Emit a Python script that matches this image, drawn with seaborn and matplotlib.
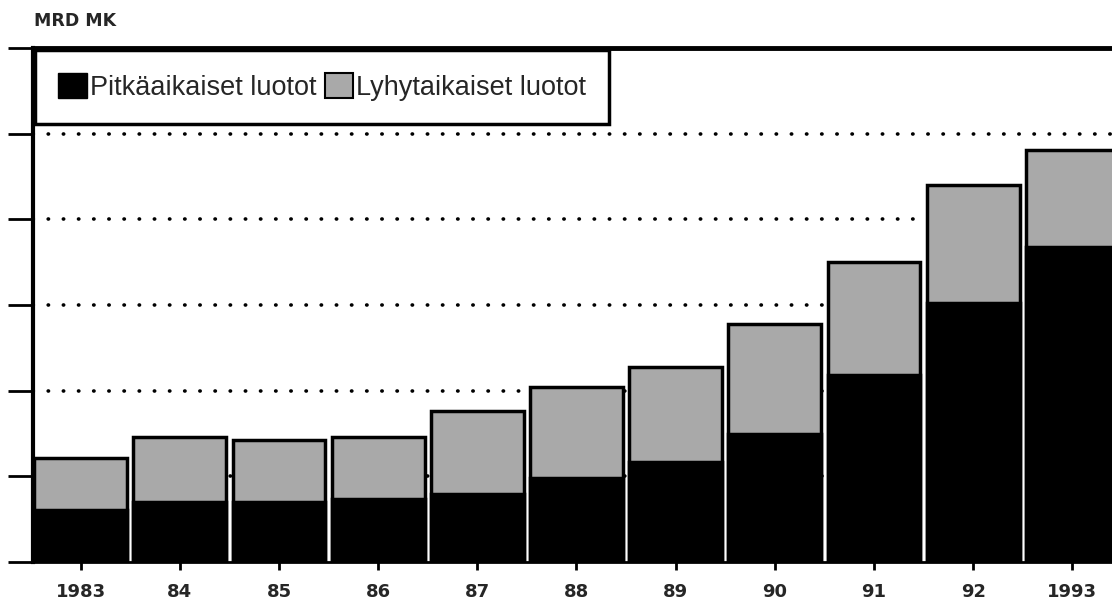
import matplotlib
matplotlib.use("Agg")
import matplotlib.pyplot as plt
import seaborn as sns
import pandas as pd
from matplotlib.patches import Patch

# values, units = one gridline step (scale is unlabelled)
years = ["1983", "84", "85", "86", "87", "88", "89", "90", "91", "92", "1993"]
pitka = [6.1, 7.0, 7.0, 7.4, 8.0, 9.8, 11.7, 15.0, 21.8, 30.3, 36.8]   # black part
yhteensa = [12.1, 14.6, 14.3, 14.6, 17.6, 20.4, 22.8, 27.8, 35.0, 44.0, 48.1]  # bar top
legend_labels = ["Pitkäaikaiset luotot", "Lyhytaikaiset luotot"]

df = pd.DataFrame({"vuosi": years, "pitka": pitka, "yhteensa": yhteensa})

sns.set_style("white")
plt.rcParams['font.family'] = ['Liberation Sans', 'DejaVu Sans']

fig = plt.figure(figsize=(11.12, 6.02), dpi=100)
ax = fig.add_axes([0.0297, 0.0664, 1.0 - 0.0297, 0.920 - 0.0664])

grey = "#a9a9a9"
sns.barplot(data=df, x="vuosi", y="yhteensa", order=years, color=grey, width=0.935,
            edgecolor="black", linewidth=2.5, saturation=1, ax=ax, zorder=3)
sns.barplot(data=df, x="vuosi", y="pitka", order=years, color="black", width=0.935,
            edgecolor="black", linewidth=2.5, saturation=1, ax=ax, zorder=4)

ax.set_xlim(-0.48, 10.4)
ax.set_ylim(0, 60)
ax.set_yticks(range(0, 61, 10))
ax.set_yticklabels([])
ax.set_xlabel("")
ax.set_ylabel("")

for y in range(10, 60, 10):
    ax.axhline(y, color="black", lw=2.6, linestyle=(0, (0.1, 4.1)),
               dash_capstyle="round", zorder=1)

for side in ["left", "top", "bottom"]:
    ax.spines[side].set_visible(True)
    ax.spines[side].set_color("black")
ax.spines["right"].set_visible(False)
ax.spines["left"].set_linewidth(3)
ax.spines["top"].set_linewidth(3.5)
ax.spines["bottom"].set_linewidth(2)

ax.tick_params(axis="y", direction="out", length=18, width=2, color="black", left=True)
ax.tick_params(axis="x", direction="out", length=6, width=2, color="black", bottom=True,
               pad=9)
for lab in ax.get_xticklabels():
    lab.set_fontfamily(["DejaVu Sans"])
    lab.set_fontweight("bold")
    lab.set_fontsize(13)

handles = [Patch(facecolor="black", edgecolor="black"),
           Patch(facecolor=grey, edgecolor="black", linewidth=1.5)]
leg = ax.legend(handles, legend_labels, loc="upper left", bbox_to_anchor=(0.002, 0.997),
                ncol=2, frameon=True, fancybox=False, framealpha=1,
                edgecolor="black", fontsize=19.5, handlelength=1.05, handleheight=1.05,
                handletextpad=0.12, columnspacing=0.3, borderpad=0.85,
                borderaxespad=0)
leg.get_frame().set_linewidth(2.5)
leg.set_zorder(6)

fig.text(0.031, 0.965, "MRD MK", fontsize=12.5, fontweight="bold", ha="left", va="center",
         family=["DejaVu Sans"])

fig.savefig("out.png", dpi=100)
